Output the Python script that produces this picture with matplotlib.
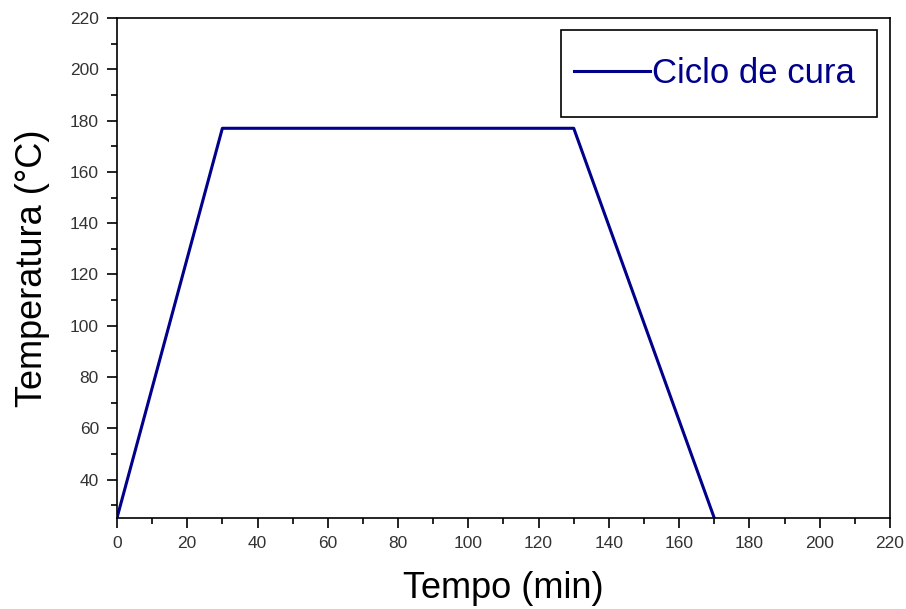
import matplotlib
matplotlib.use("Agg")
from matplotlib import pyplot as plt
from matplotlib.patches import Rectangle
from matplotlib.ticker import MultipleLocator

# cure cycle
tempo = [0, 30, 130, 170]
temperatura = [25, 177, 177, 25]

plt.rcParams['font.family'] = ['Liberation Sans', 'DejaVu Sans']

fig = plt.figure(figsize=(9.06, 6.09), dpi=100)
ax = fig.add_axes([0.1291, 0.1494, 0.8532, 0.821])

ax.plot(tempo, temperatura, color='#00008b', lw=2.2, label='Ciclo de cura')

ax.set_xlim(0, 220)
ax.set_ylim(25, 220)
ax.xaxis.set_major_locator(MultipleLocator(20))
ax.xaxis.set_minor_locator(MultipleLocator(10))
ax.yaxis.set_major_locator(MultipleLocator(20))
ax.yaxis.set_minor_locator(MultipleLocator(10))
ax.set_yticks(range(40, 221, 20))
ax.tick_params(which='major', direction='out', length=7, width=1.2, pad=6,
               labelsize=12.5, labelcolor='#333333')
ax.tick_params(which='minor', direction='out', length=4, width=1.2)
for s in ax.spines.values():
    s.set_linewidth(1.2)

ax.set_xlabel('Tempo (min)', fontsize=26, labelpad=14)
ax.set_ylabel('Temperatura (°C)', fontsize=26, labelpad=14)

# legend box drawn separately so it can be wider/taller than the entry
ax.add_patch(Rectangle((0.5744, 0.802), 0.4088, 0.174, transform=ax.transAxes,
                       fill=False, edgecolor='black', lw=1.2, zorder=5))
leg = ax.legend(loc='center', bbox_to_anchor=(0.773, 0.889), fontsize=25,
                frameon=False, handlelength=2.2, handletextpad=0.05,
                borderpad=0, borderaxespad=0)
for t in leg.get_texts():
    t.set_color('#00008b')

fig.savefig('out.png', dpi=100)
